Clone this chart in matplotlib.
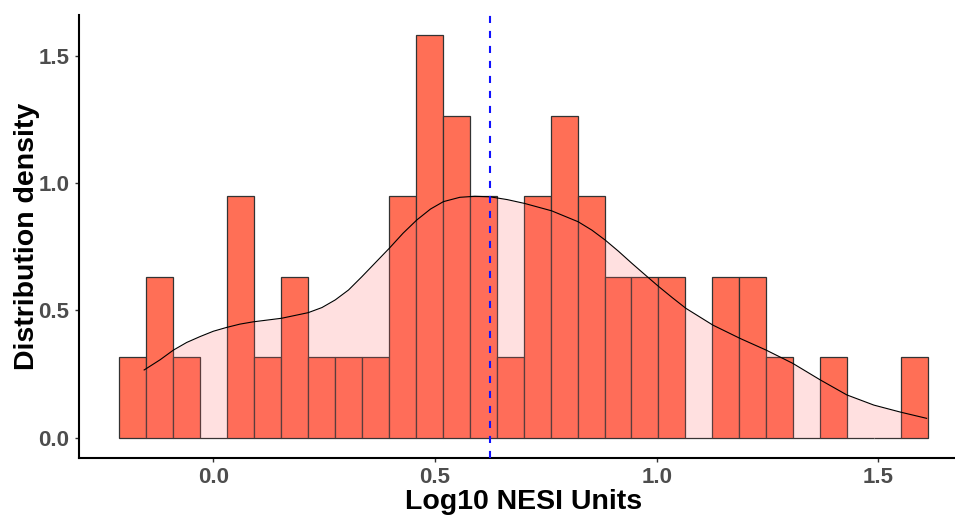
import numpy as np
import matplotlib
matplotlib.use("Agg")
import matplotlib.pyplot as plt

plt.rcParams['font.family'] = ['Liberation Sans', 'DejaVu Sans']

# histogram: 30 bins of log10 NESI units, counts per bin (n = 52)
bin_left = -0.212
bin_width = 0.0608
counts = [1, 2, 1, 0, 3, 1, 2, 1, 1, 1, 3, 5, 4, 3, 1,
          3, 4, 3, 2, 2, 2, 0, 2, 2, 1, 0, 1, 0, 0, 1]

# density curve
curve_x = [-0.156, -0.120, -0.090, -0.060, -0.030, 0.000, 0.030, 0.060, 0.090,
           0.154, 0.214, 0.245, 0.275, 0.305, 0.335, 0.366, 0.397, 0.428,
           0.459, 0.490, 0.519, 0.556, 0.590, 0.624, 0.663, 0.702, 0.763,
           0.823, 0.854, 0.884, 0.914, 0.944, 0.975, 1.005, 1.036, 1.066,
           1.127, 1.188, 1.247, 1.307, 1.369, 1.429, 1.490, 1.551, 1.609]
curve_y = [0.266, 0.306, 0.344, 0.374, 0.397, 0.418, 0.433, 0.446, 0.455,
           0.469, 0.491, 0.511, 0.541, 0.580, 0.632, 0.688, 0.744, 0.803,
           0.855, 0.898, 0.927, 0.944, 0.948, 0.946, 0.935, 0.920, 0.891,
           0.848, 0.815, 0.776, 0.732, 0.685, 0.638, 0.593, 0.549, 0.508,
           0.442, 0.390, 0.344, 0.292, 0.227, 0.168, 0.128, 0.100, 0.076]

mean_value = 0.623

n = sum(counts)
density = [c / (n * bin_width) for c in counts]
lefts = [bin_left + i * bin_width for i in range(len(counts))]

fig = plt.figure(figsize=(9.55, 5.15), dpi=100)
ax = fig.add_axes([0.0827, 0.1113, 0.9173, 0.8596])

ax.bar(lefts, density, width=bin_width, align='edge',
       color='#FF6F56', edgecolor='#333333', linewidth=0.9, zorder=2)
ax.fill_between(curve_x, curve_y, 0, color='#FF6666', alpha=0.2,
                linewidth=0, zorder=3)
ax.plot(curve_x, curve_y, color='black', linewidth=0.8, zorder=4)
vl = ax.axvline(mean_value, color='#1010FF', linewidth=1.5, zorder=5)
vl.set_dashes([3.4, 3.8])

ax.set_xlim(-0.303, 1.673)
ax.set_ylim(-0.0785, 1.66)
ax.set_xticks([0.0, 0.5, 1.0, 1.5])
ax.set_yticks([0.0, 0.5, 1.0, 1.5])
ax.set_xticklabels(['0.0', '0.5', '1.0', '1.5'])
ax.set_yticklabels(['0.0', '0.5', '1.0', '1.5'])

for s in ['top', 'right']:
    ax.spines[s].set_visible(False)
for s in ['left', 'bottom']:
    ax.spines[s].set_color('black')
    ax.spines[s].set_linewidth(1.5)

ax.tick_params(length=3, width=1, color='#333333', pad=4,
               labelsize=16, labelcolor='#4D4D4D')
for lab in ax.get_xticklabels() + ax.get_yticklabels():
    lab.set_fontweight('bold')

ax.set_xlabel('Log10 NESI Units', fontsize=20.5, fontweight='bold')
ax.set_ylabel('Distribution density', fontsize=20.5, fontweight='bold')
ax.xaxis.set_label_coords(0.5077, -0.070)
ax.yaxis.set_label_coords(-0.0445, 0.5)

fig.savefig('out.png', dpi=100)
